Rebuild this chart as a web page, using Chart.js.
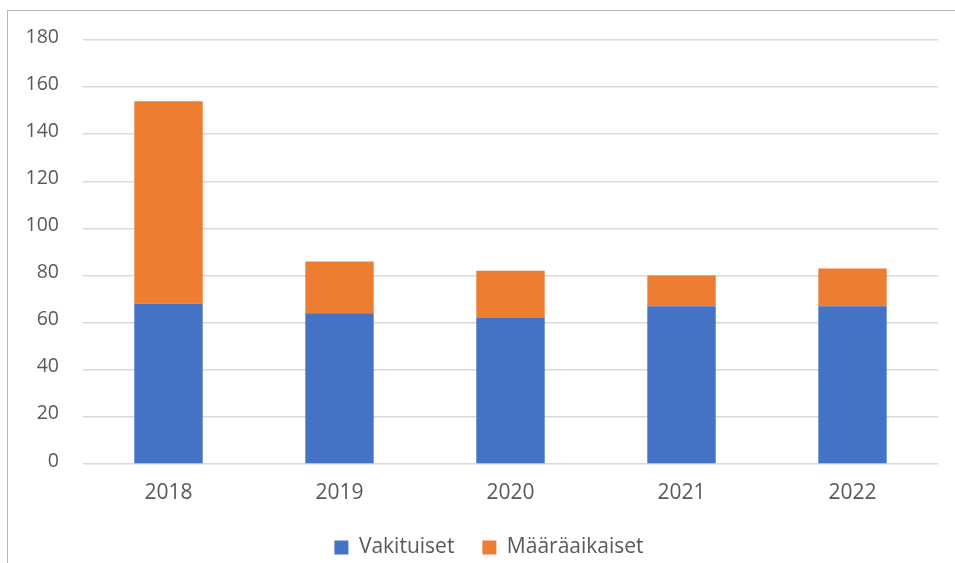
<!DOCTYPE html>
<html>
<head>
<meta charset="utf-8">
<script src="https://cdn.jsdelivr.net/npm/chart.js@4"></script>
<style>
    html, body {
        margin: 0;
        padding: 0;
        background: #ffffff;
        overflow: hidden;
        width: 955px;
        height: 563px;
    }
    .frame {
        position: absolute;
        left: 7px;
        top: 10px;
        width: 1000px;
        height: 600px;
        border-top: 1.5px solid #b4b4b4;
        border-left: 1.5px solid #b4b4b4;
    }
    .chart-wrap {
        position: absolute;
        left: 0;
        top: 0;
        width: 955px;
        height: 568px;
    }
</style>
</head>
<body>
<div class="frame"></div>
<div class="chart-wrap"><canvas id="chart"></canvas></div>
<script>
// chart data
const years = ['2018', '2019', '2020', '2021', '2022'];
const vakituiset = [68, 64, 62, 67, 67];
const maaraaikaiset = [86, 22, 20, 13, 16];
const yTicks = [0, 20, 40, 60, 80, 100, 120, 140, 160, 180];

const textColor = '#595959';
const gridColor = '#d9d9d9';
const family = "'Open Sans', 'Liberation Sans', sans-serif";
const xFont = { family: family, size: 21 };
const yFont = { family: family, size: 19.5 };
const legendFont = { family: family, size: 21 };

// legend in the original sits a bit right of the canvas centre
const legendShift = {
    id: 'legendShift',
    afterLayout(chart) {
        if (chart.legend) {
            chart.legend.left += 20;
            chart.legend.right += 20;
        }
    }
};

const ctx = document.getElementById('chart').getContext('2d');

new Chart(ctx, {
    type: 'bar',
    data: {
        labels: years,
        datasets: [
            {
                label: 'Vakituiset',
                data: vakituiset,
                backgroundColor: '#4472C4',
                barPercentage: 0.4,
                categoryPercentage: 1
            },
            {
                label: 'Määräaikaiset',
                data: maaraaikaiset,
                backgroundColor: '#ED7D31',
                barPercentage: 0.4,
                categoryPercentage: 1
            }
        ]
    },
    options: {
        responsive: true,
        maintainAspectRatio: false,
        animation: false,
        layout: {
            padding: { top: 40, right: 17, left: 0, bottom: 0 }
        },
        plugins: {
            legend: {
                position: 'bottom',
                labels: {
                    color: textColor,
                    font: legendFont,
                    boxWidth: 14,
                    boxHeight: 14,
                    padding: 28
                }
            },
            tooltip: { enabled: false }
        },
        scales: {
            x: {
                stacked: true,
                grid: { display: false, drawTicks: false },
                border: { display: false },
                ticks: { color: textColor, font: xFont, padding: 16 },
                afterFit: (scale) => { scale.height = 45; }
            },
            y: {
                stacked: true,
                min: 0,
                max: 180,
                afterBuildTicks: (scale) => {
                    scale.ticks = yTicks.map(v => ({ value: v }));
                },
                grid: { color: gridColor, lineWidth: 1.5, drawTicks: false },
                border: { display: false },
                ticks: { color: textColor, font: yFont, padding: 24, labelOffset: -3 },
                afterFit: (scale) => { scale.width = 83; }
            }
        }
    },
    plugins: [legendShift]
});
</script>
</body>
</html>
